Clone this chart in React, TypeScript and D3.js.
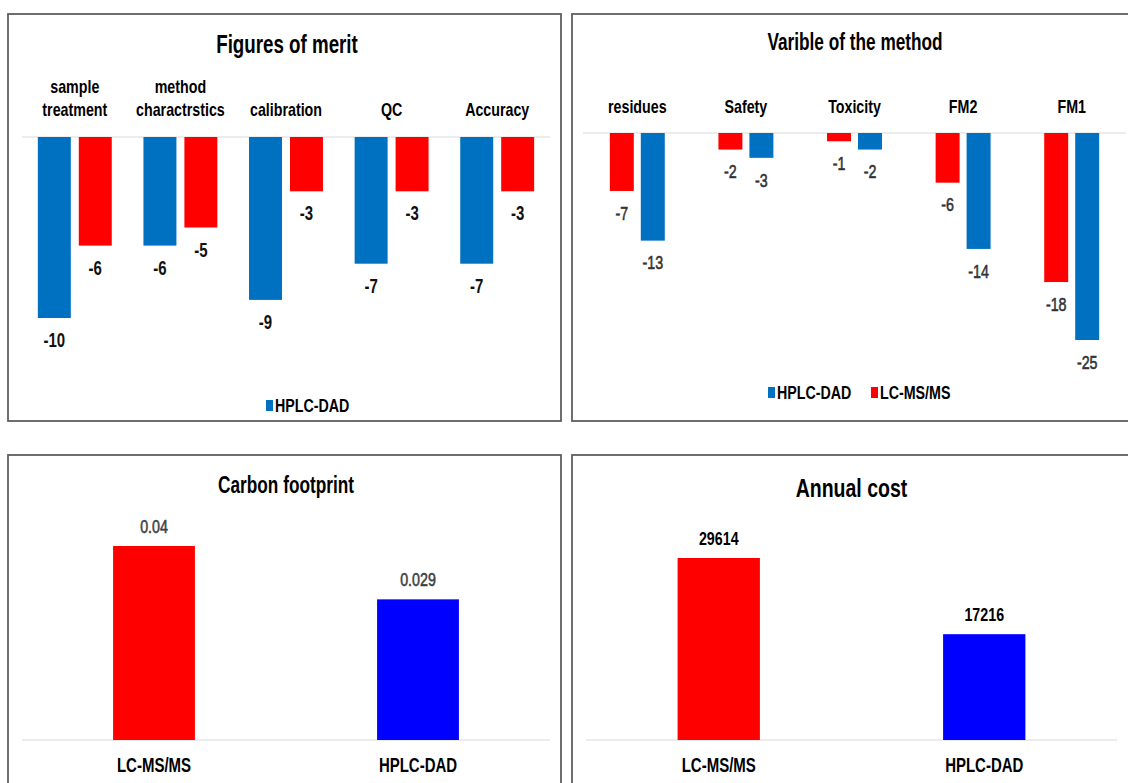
import React from "react";
import * as d3 from "d3";

// Figures of merit (grouped, negative scores)
const meritCategories: string[][] = [
  ["sample", "treatment"],
  ["method", "charactrstics"],
  ["calibration"],
  ["QC"],
  ["Accuracy"],
];
const meritHplc: number[] = [-10, -6, -9, -7, -7];
const meritLcms: number[] = [-6, -5, -3, -3, -3];

// Variables of the method (grouped, negative scores)
const variableCategories: string[] = ["residues", "Safety", "Toxicity", "FM2", "FM1"];
const variableLcms: number[] = [-7, -2, -1, -6, -18];
const variableHplc: number[] = [-13, -3, -2, -14, -25];

// Single-series comparisons
const methodNames: string[] = ["LC-MS/MS", "HPLC-DAD"];
const carbonValues: number[] = [0.04, 0.029];
const costValues: number[] = [29614, 17216];

const FONT = "'Liberation Sans', Arial, sans-serif";
const NARROW = 0.75; // horizontal squeeze to get a condensed face
const BLUE = "#0070C0";
const RED = "#FF0000";
const PURE_BLUE = "#0000FF";
const FRAME = "#5f5f5f";
const ZERO = "#d9d9d9";

type TProps = {
  x: number; y: number; size: number; bold?: boolean; fill?: string; heavy?: boolean;
  anchor?: "start" | "middle" | "end"; children: React.ReactNode;
};

// Condensed text: drawn at the origin and squeezed horizontally
function NText({ x, y, size, bold = true, fill = "#000", heavy = false, anchor = "middle", children }: TProps) {
  return (
    <text
      transform={`translate(${x},${y}) scale(${NARROW},1)`}
      dy="0.35em"
      textAnchor={anchor}
      fontSize={size}
      fontWeight={bold ? "bold" : "normal"}
      fill={fill}
      stroke={heavy ? fill : "none"}
      strokeWidth={heavy ? 0.6 : 0}
    >
      {children}
    </text>
  );
}

function Frame({ x, y, w, h }: { x: number; y: number; w: number; h: number }) {
  return <rect x={x} y={y} width={w} height={h} fill="#fff" stroke={FRAME} strokeWidth={1.8} />;
}

function MeritPanel() {
  const x = d3.scaleBand<number>().domain(d3.range(meritCategories.length)).range([22, 550]).paddingInner(0.3).paddingOuter(0.15);
  const sub = d3.scaleBand<string>().domain(["HPLC-DAD", "LC-MS/MS"]).range([0, x.bandwidth()]).paddingInner(0.195);
  const y = d3.scaleLinear().domain([0, -10]).range([137, 318]);
  const series = [
    { key: "HPLC-DAD", values: meritHplc, color: BLUE },
    { key: "LC-MS/MS", values: meritLcms, color: RED },
  ];
  return (
    <g>
      <Frame x={8} y={14} w={553} h={407} />
      <NText x={287} y={44} size={25}>Figures of merit</NText>
      {meritCategories.map((lines, i) => {
        const cx = (x(i) as number) + x.bandwidth() / 2;
        return lines.map((l, j) => (
          <NText key={i + "-" + j} x={cx} y={109.5 - (lines.length - 1 - j) * 23} size={19}>{l}</NText>
        ));
      })}
      <line x1={22} x2={550} y1={y(0)} y2={y(0)} stroke={ZERO} strokeWidth={1.2} />
      {series.map((s) =>
        s.values.map((v, i) => {
          const bx = (x(i) as number) + (sub(s.key) as number);
          return (
            <g key={s.key + i}>
              <rect x={bx} y={y(0)} width={sub.bandwidth()} height={y(v) - y(0)} fill={s.color} />
              <NText x={bx + sub.bandwidth() / 2} y={y(v) + 22} size={20} fill="#111">{v}</NText>
            </g>
          );
        })
      )}
      <rect x={266} y={400} width={7} height={11} fill={BLUE} />
      <NText x={275} y={405} size={19} anchor="start">HPLC-DAD</NText>
    </g>
  );
}

function VariablePanel() {
  const x = d3.scaleBand<string>().domain(variableCategories).range([583, 1126]).paddingInner(0.494).paddingOuter(0.247);
  const sub = d3.scaleBand<string>().domain(["LC-MS/MS", "HPLC-DAD"]).range([0, x.bandwidth()]).paddingInner(0.226);
  const y = d3.scaleLinear().domain([0, -25]).range([133, 340]);
  const series = [
    { key: "LC-MS/MS", values: variableLcms, color: RED },
    { key: "HPLC-DAD", values: variableHplc, color: BLUE },
  ];
  return (
    <g>
      <Frame x={572} y={14} w={560} h={407} />
      <NText x={855} y={42} size={23}>Varible of the method</NText>
      {variableCategories.map((c) => (
        <NText key={c} x={(x(c) as number) + x.bandwidth() / 2} y={106} size={19}>{c}</NText>
      ))}
      <line x1={583} x2={1126} y1={y(0)} y2={y(0)} stroke={ZERO} strokeWidth={1.2} />
      {series.map((s) =>
        s.values.map((v, i) => {
          const c = variableCategories[i];
          const bx = (x(c) as number) + (sub(s.key) as number);
          return (
            <g key={s.key + c}>
              <rect x={bx} y={y(0)} width={sub.bandwidth()} height={y(v) - y(0)} fill={s.color} />
              <NText x={bx + sub.bandwidth() / 2} y={y(v) + 22} size={19} bold={false} heavy fill="#333">{v}</NText>
            </g>
          );
        })
      )}
      <rect x={768} y={387} width={7} height={11} fill={BLUE} />
      <NText x={777} y={392} size={19} anchor="start">HPLC-DAD</NText>
      <rect x={871} y={387} width={7} height={11} fill={RED} />
      <NText x={880} y={392} size={19} anchor="start">LC-MS/MS</NText>
    </g>
  );
}

function SinglePanel({
  title, values, left, right, frameX, frameW, top, labelBold, labelFill, titleSize, titleY,
}: {
  title: string; values: number[]; left: number; right: number; frameX: number; frameW: number;
  top: number; labelBold: boolean; labelFill: string; titleSize: number; titleY: number;
}) {
  const colors = [RED, PURE_BLUE];
  const x = d3.scaleBand<string>().domain(methodNames).range([left, right]).paddingInner(0.69).paddingOuter(0.345);
  const y = d3.scaleLinear().domain([0, values[0]]).range([740, top]);
  return (
    <g>
      <Frame x={frameX} y={455} w={frameW} h={340} />
      <NText x={(left + right) / 2} y={titleY} size={titleSize}>{title}</NText>
      <line x1={left} x2={right} y1={y(0)} y2={y(0)} stroke={ZERO} strokeWidth={1.2} />
      {values.map((v, i) => {
        const c = methodNames[i];
        const bx = x(c) as number;
        const cx = bx + x.bandwidth() / 2;
        return (
          <g key={c}>
            <rect x={bx} y={y(v)} width={x.bandwidth()} height={y(0) - y(v)} fill={colors[i]} />
            <NText x={cx} y={y(v) - 20} size={19} bold={labelBold} heavy={!labelBold} fill={labelFill}>{String(v)}</NText>
            <NText x={cx} y={765} size={20}>{c}</NText>
          </g>
        );
      })}
    </g>
  );
}

export default function App() {
  return (
    <svg width={1128} height={783} viewBox="0 0 1128 783" style={{ position: "absolute", left: 0, top: 0, display: "block", background: "#fff" }} fontFamily={FONT}>
      <rect x={0} y={0} width={1128} height={783} fill="#fff" />
      <MeritPanel />
      <VariablePanel />
      <SinglePanel title="Carbon footprint" values={carbonValues} left={22} right={550} frameX={8} frameW={553} top={546}
        labelBold={false} labelFill="#404040" titleSize={23} titleY={485} />
      <SinglePanel title="Annual cost" values={costValues} left={586} right={1117} frameX={572} frameW={560} top={558}
        labelBold={true} labelFill="#000" titleSize={26} titleY={488} />
    </svg>
  );
}
